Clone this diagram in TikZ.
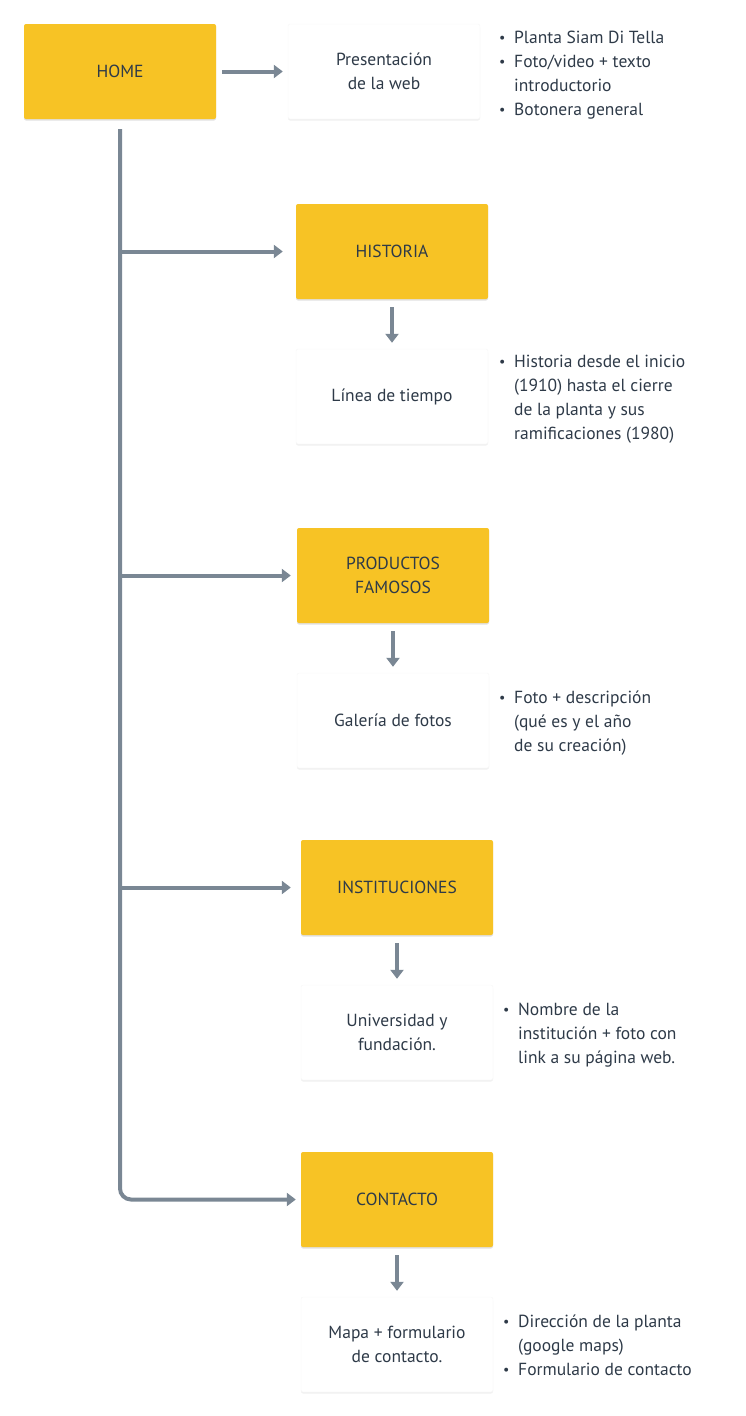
\documentclass[tikz,border=0pt]{standalone}
\usepackage{fontspec}
\setmainfont{PT Sans}
\usetikzlibrary{arrows.meta,shadows}
\definecolor{boxyellow}{HTML}{F7C325}
\definecolor{linegray}{HTML}{7A8794}
\definecolor{txt}{HTML}{2E3A48}
\begin{document}
\begin{tikzpicture}[x=1pt,y=-1pt,
  every node/.style={font=\fontsize{17.5}{24}\selectfont, text=txt},
  ybox/.style={fill=boxyellow, minimum width=192pt, minimum height=95pt, inner sep=0pt, rounded corners=2pt, align=center,
    drop shadow={shadow xshift=0pt, shadow yshift=-1.5pt, opacity=0.12, fill=black}},
  wbox/.style={fill=white, draw=black!3, minimum width=192pt, minimum height=95pt, inner sep=0pt, rounded corners=2pt, align=center,
    drop shadow={shadow xshift=0pt, shadow yshift=-1.5pt, opacity=0.06, fill=black}},
  blist/.style={anchor=north west, inner sep=0pt, align=left},
  conn/.style={draw=linegray, line width=4pt, -{Triangle[length=9pt,width=13pt]}},
  trunk/.style={draw=linegray, line width=4pt, rounded corners=11pt, -{Triangle[length=9pt,width=13pt]}}
]
\useasboundingbox (0,0) rectangle (745,1416);
% boxes
\node[ybox] (home) at (120,71.5) {HOME};
\node[wbox] (pres) at (384,71.5) {Presentación\\de la web};
\node[ybox] (hist) at (392,251.5) {HISTORIA};
\node[wbox] (linea) at (392,396.5) {Línea de tiempo};
\node[ybox] (prod) at (393,575.5) {PRODUCTOS\\FAMOSOS};
\node[wbox] (gal) at (393,720.5) {Galería de fotos};
\node[ybox] (inst) at (397,887.5) {INSTITUCIONES};
\node[wbox] (univ) at (397,1032.5) {Universidad y\\fundación.};
\node[ybox] (cont) at (397,1199.5) {CONTACTO};
\node[wbox] (mapa) at (397,1344.5) {Mapa + formulario\\de contacto.};
% bullet lists
\newcommand{\bl}{\makebox[15pt][l]{\raisebox{1pt}{\scalebox{0.8}{•}}}}
\newcommand{\ind}{\hspace*{15pt}}
\node[blist] (l1) at (499,31) {\bl Planta Siam Di Tella\\\bl Foto/video + texto\\\ind introductorio\\\bl Botonera general};
\node[blist] (l2) at (499,355) {\bl Historia desde el inicio\\\ind (1910) hasta el cierre\\\ind de la planta y sus\\\ind ramificaciones (1980)};
\node[blist] (l3) at (499,691) {\bl Foto + descripción\\\ind (qué es y el año\\\ind de su creación)};
\node[blist] (l4) at (503,1003) {\bl Nombre de la\\\ind institución + foto con\\\ind link a su página web.};
\node[blist] (l5) at (503,1315) {\bl Dirección de la planta\\\ind (google maps)\\\bl Formulario de contacto};
% connectors
\draw[conn, shorten <=6pt, shorten >=5pt] (home.east) -- (pres.west);
\draw[trunk, shorten <=10pt, shorten >=5pt] (home.south) |- (cont.west);
\draw[conn, shorten >=13pt] (home.south |- hist.west) -- (hist.west);
\draw[conn, shorten >=6pt] (home.south |- prod.west) -- (prod.west);
\draw[conn, shorten >=10pt] (home.south |- inst.west) -- (inst.west);
\draw[conn, shorten <=8pt, shorten >=6pt] (hist.south) -- (linea.north);
\draw[conn, shorten <=8pt, shorten >=6pt] (prod.south) -- (gal.north);
\draw[conn, shorten <=8pt, shorten >=6pt] (inst.south) -- (univ.north);
\draw[conn, shorten <=8pt, shorten >=6pt] (cont.south) -- (mapa.north);
\end{tikzpicture}
\end{document}
